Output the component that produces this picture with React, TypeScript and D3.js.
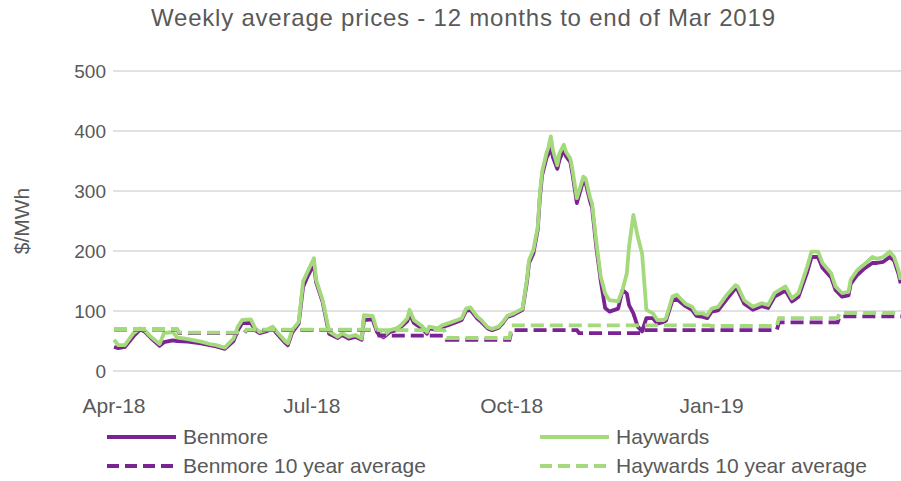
import React from "react";
import * as d3 from "d3";

// days since 1 Apr 2018 for the weekly average series
const dayOffsets = [0,2,5,9,12,14,17,21,23,27,29,34,40,44,47,51,55,57,59,63,65,67,70,73,75,79,80,82,85,87,89,92,93,96,99,103,105,108,111,114,115,119,121,124,127,130,132,135,136,138,142,144,145,149,151,155,158,160,162,164,167,169,172,174,177,179,181,184,188,190,191,193,195,196,197,199,200,201,202,204,205,207,208,210,211,213,216,217,219,220,222,224,226,228,232,234,236,237,239,241,243,245,248,250,253,254,257,259,263,266,268,271,273,275,278,282,286,287,290,294,298,301,304,309,312,315,319,321,324,326,330,332,335,338,339,342,345,349,351,354,357,359,361,362];

const haywards = [52,43,43,63,71,68,57,45,63,65,56,53,49,45,43,39,54,74,85,86,71,65,68,74,65,49,46,68,82,149,165,188,152,118,66,57,63,57,60,54,93,92,68,58,68,71,76,88,102,85,74,65,74,71,76,81,85,88,104,106,91,85,73,70,74,82,92,96,104,152,185,202,240,296,332,363,374,391,368,343,363,377,365,354,335,288,324,321,290,279,213,157,129,118,116,135,163,207,260,224,196,102,96,85,85,88,124,127,112,107,96,96,93,104,107,127,143,141,118,107,113,110,130,141,121,130,174,199,199,180,163,141,130,132,152,168,177,190,187,190,199,190,168,152];

const benmore = [40,38,40,58,69,66,55,42,48,51,50,49,46,43,41,37,50,68,80,80,68,63,66,71,62,46,43,64,79,140,157,178,148,115,62,55,60,54,57,52,85,86,65,56,65,68,73,83,95,80,70,62,71,68,73,78,82,85,100,102,88,82,71,68,72,80,90,94,102,148,180,196,236,290,326,355,362,378,356,337,352,370,358,348,328,280,318,314,284,272,205,150,105,99,104,135,129,110,96,74,66,88,88,79,82,84,118,120,108,102,92,90,88,99,101,120,138,135,112,102,108,105,124,134,116,124,165,190,190,172,156,135,124,126,145,160,170,180,180,182,190,184,162,146];

// monthly 10 year averages, Apr-18 .. Mar-19
const avgMonths = ["Apr","May","Jun","Jul","Aug","Sep","Oct","Nov","Dec","Jan","Feb","Mar"];
const haywardsAvg = [70,64,69,69,68,55,76,76,76,75,88,97];
const benmoreAvg = [69,63,68,68,59,52,68,63,68,68,81,91];

const yTicks = [0,100,200,300,400,500];

const PURPLE = "#7B2392";
const GREEN = "#A4D97C";
const TEXT = "#595959";
const FONT = "'Liberation Sans', Arial, sans-serif";

const start = new Date(2018, 3, 1);

export default function App() {
  const x = d3.scaleTime().domain([start, new Date(2019, 2, 31)]).range([114, 905]);
  const y = d3.scaleLinear().domain([0, 500]).range([371, 71]);

  const toDate = (d: number) => d3.timeDay.offset(start, d);

  const line = d3.line<[Date, number]>().x(p => x(p[0])).y(p => y(p[1]));

  const hayPts = dayOffsets.map((d, i) => [toDate(d), haywards[i]] as [Date, number]);
  const benPts = dayOffsets.map((d, i) => [toDate(d), benmore[i]] as [Date, number]);

  const stepPts = (vals: number[]) => {
    const pts: [Date, number][] = [];
    avgMonths.forEach((_, i) => {
      pts.push([new Date(2018, 3 + i, 1), vals[i]]);
      pts.push([new Date(2018, 4 + i, 0), vals[i]]);
    });
    return pts;
  };

  const xTicks = d3.timeMonth.every(3)!.range(start, new Date(2019, 2, 2));
  const fmt = d3.timeFormat("%b-%y");

  const legend = [
    { label: "Benmore", color: PURPLE, dash: "none", lx: 107, ly: 437 },
    { label: "Haywards", color: GREEN, dash: "none", lx: 540, ly: 437 },
    { label: "Benmore 10 year average", color: PURPLE, dash: "12 6", lx: 107, ly: 466 },
    { label: "Haywards 10 year average", color: GREEN, dash: "12 6", lx: 540, ly: 466 },
  ];

  return (
    <svg width={901} height={481} style={{ position: "absolute", left: 0, top: 0, background: "#fff" }}
      fontFamily={FONT}>
      <text x={463} y={26} textAnchor="middle" fontSize={24} fill={TEXT} textLength={624} lengthAdjust="spacing">
        Weekly average prices - 12 months to end of Mar 2019
      </text>

      {yTicks.map(t => (
        <g key={t}>
          <line x1={113} x2={901} y1={y(t)} y2={y(t)} stroke="#D9D9D9" strokeWidth={1.5} />
          <text x={106} y={y(t)} dy="0.35em" textAnchor="end" fontSize={19} fill={TEXT}>{t}</text>
        </g>
      ))}

      <text transform={`translate(29,${y(250)}) rotate(-90)`} textAnchor="middle" fontSize={21} fill={TEXT}>$/MWh</text>

      {xTicks.map(t => (
        <text key={+t} x={x(t)} y={406} dy="0.35em" textAnchor="middle" fontSize={21} fill={TEXT}>{fmt(t)}</text>
      ))}

      <path d={line(benPts) || ""} fill="none" stroke={PURPLE} strokeWidth={3.8} strokeLinejoin="round" />
      <path d={line(hayPts) || ""} fill="none" stroke={GREEN} strokeWidth={3.8} strokeLinejoin="round" />
      <path d={line(stepPts(benmoreAvg)) || ""} fill="none" stroke={PURPLE} strokeWidth={3.8} strokeDasharray="13 6" />
      <path d={line(stepPts(haywardsAvg)) || ""} fill="none" stroke={GREEN} strokeWidth={3.8} strokeDasharray="13 6" />

      {legend.map(l => (
        <g key={l.label}>
          <line x1={l.lx} x2={l.lx + 69} y1={l.ly} y2={l.ly} stroke={l.color} strokeWidth={3.8} strokeDasharray={l.dash} />
          <text x={l.lx + 76} y={l.ly} dy="0.35em" fontSize={21} fill={TEXT}>{l.label}</text>
        </g>
      ))}
    </svg>
  );
}
